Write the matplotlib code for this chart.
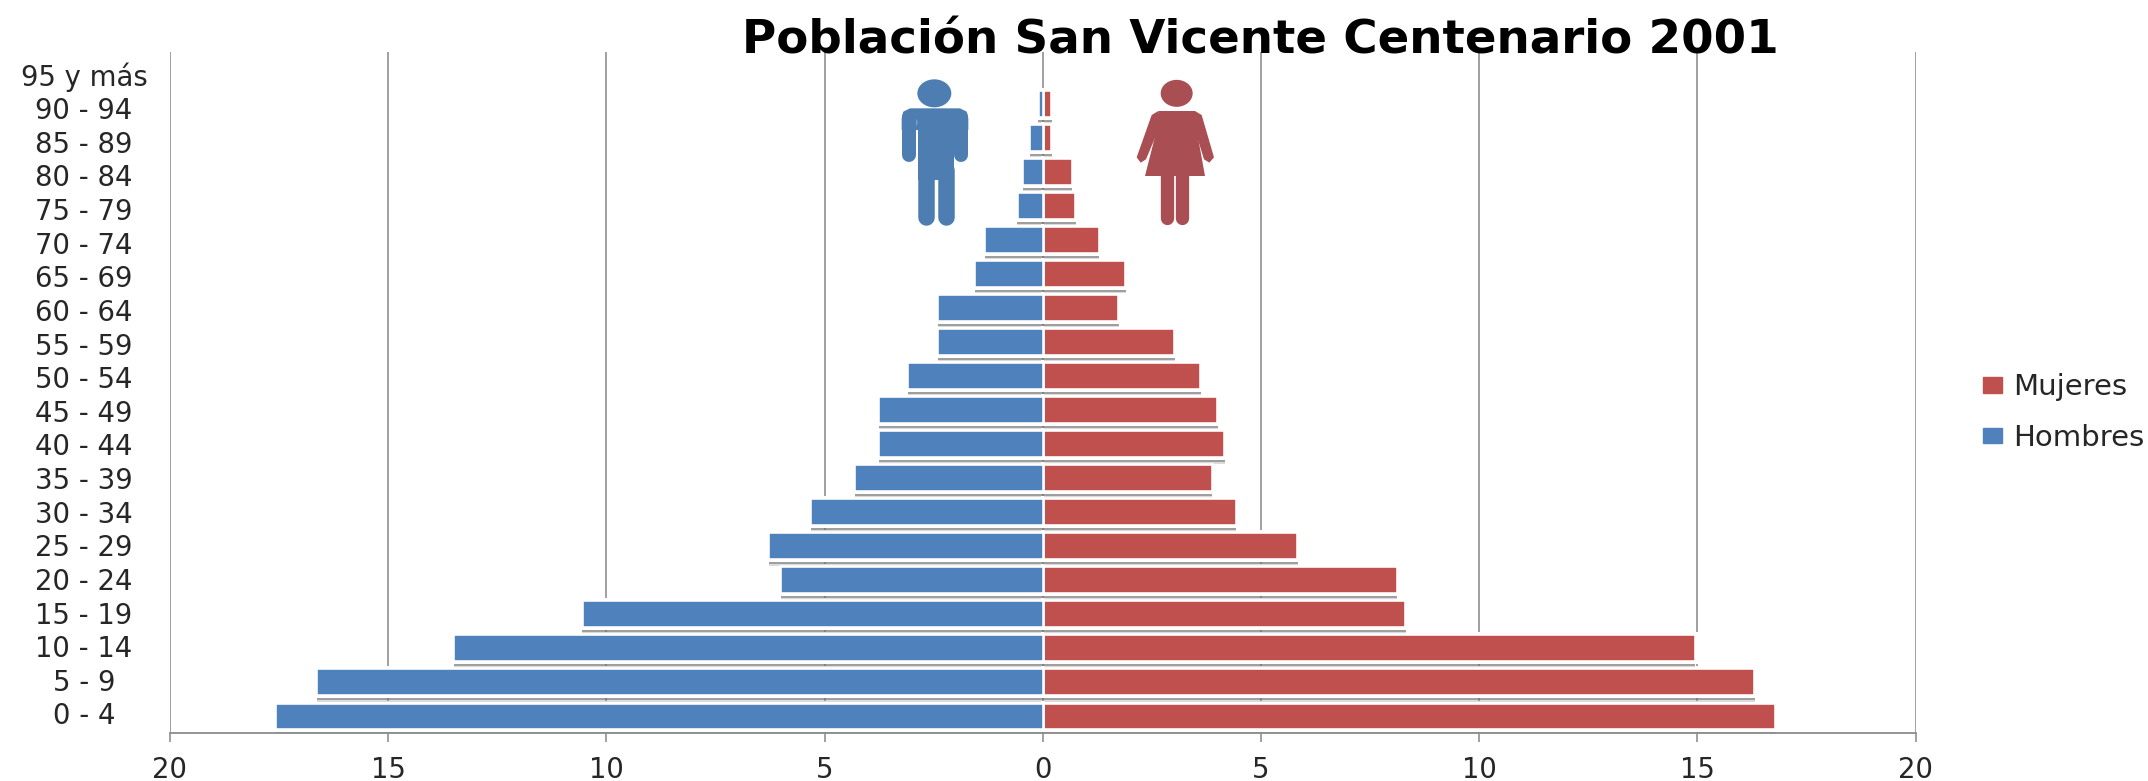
import matplotlib
matplotlib.use("Agg")
import matplotlib.pyplot as plt
import matplotlib.patheffects as pe
from matplotlib.patches import Ellipse, Polygon, Patch
from matplotlib.transforms import ScaledTranslation

age_groups = ["0 - 4", "5 - 9", "10 - 14", "15 - 19", "20 - 24", "25 - 29", "30 - 34",
              "35 - 39", "40 - 44", "45 - 49", "50 - 54", "55 - 59", "60 - 64", "65 - 69",
              "70 - 74", "75 - 79", "80 - 84", "85 - 89", "90 - 94", "95 y más"]
hombres = [17.6, 16.66, 13.52, 10.57, 6.02, 6.29, 5.34, 4.32, 3.77, 3.77, 3.1, 2.43, 2.43,
           1.57, 1.34, 0.6, 0.48, 0.32, 0.12, 0.0]
mujeres = [16.78, 16.3, 14.94, 8.3, 8.11, 5.83, 4.42, 3.87, 4.15, 3.99, 3.6, 3.01, 1.72,
           1.88, 1.28, 0.74, 0.66, 0.2, 0.2, 0.0]
x_ticks = [-20, -15, -10, -5, 0, 5, 10, 15, 20]
x_tick_labels = ["20", "15", "10", "5", "0", "5", "10", "15", "20"]
title = "Población San Vicente Centenario 2001"

BLUE = "#4F81BD"
RED = "#C0504D"
GRID = "#8C8C8C"
TEXT = "#262626"
W, H = 2148, 781
PT = 0.72  # points per pixel at dpi=100

fig = plt.figure(figsize=(W / 100, H / 100), dpi=100, facecolor="white")
ax = fig.add_axes([170 / W, 1 - 733 / H, (1915.5 - 170) / W, (733 - 52) / H])
ypos = list(range(len(age_groups)))

ax.set_xlim(-20, 20)
ax.set_ylim(-0.5, len(age_groups) - 0.5)
ax.set_xticks(x_ticks)
ax.set_xticklabels(x_tick_labels)
ax.set_yticks(ypos)
ax.set_yticklabels(age_groups)
for s in ("top", "right", "left"):
    ax.spines[s].set_visible(False)
ax.spines["bottom"].set_color(GRID)
ax.spines["bottom"].set_linewidth(1.8 * PT)
ax.set_axisbelow(True)
ax.grid(axis="x", color=GRID, linewidth=1.6 * PT, zorder=1)
ax.tick_params(axis="x", length=9 * PT, width=1.6 * PT, color=GRID, pad=14.5 * PT,
               labelsize=19.8, labelcolor=TEXT)
ax.tick_params(axis="y", length=0, pad=86 * PT, labelsize=19.8, labelcolor=TEXT)
n = len(age_groups)
for i, lab in enumerate(ax.get_yticklabels()):
    lab.set_ha("center")
    # the category labels run on a slightly tighter pitch than the bars
    dy = (2.5 - 8.0 * i / (n - 1)) / 100
    lab.set_transform(lab.get_transform() + ScaledTranslation(0, dy, fig.dpi_scale_trans))

halo_fx = [
    pe.SimplePatchShadow(offset=(0.8 * PT, -6.5 * PT), shadow_rgbFace="#8a8a8a", alpha=0.3),
    pe.SimplePatchShadow(offset=(0.8 * PT, -5 * PT), shadow_rgbFace="#6f6f6f", alpha=0.55),
    pe.Normal(),
]
for vals, sign in ((hombres, -1), (mujeres, 1)):
    halo = ax.barh(ypos, [sign * v for v in vals], height=0.79, color="white",
                   edgecolor="white", linewidth=5 * PT, zorder=2)
    for b, v in zip(halo, vals):
        if v > 0:
            b.set_path_effects(halo_fx)
        else:
            b.set_visible(False)

bars_m = ax.barh(ypos, mujeres, height=0.79, color=RED, edgecolor="white",
                 linewidth=2.6 * PT, zorder=3, label="Mujeres")
bars_h = ax.barh(ypos, [-v for v in hombres], height=0.79, color=BLUE, edgecolor="white",
                 linewidth=2.6 * PT, zorder=3, label="Hombres")
for container, vals in ((bars_m, mujeres), (bars_h, hombres)):
    for b, v in zip(container, vals):
        if v == 0:
            b.set_visible(False)

fig.legend(handles=[Patch(color=RED, label="Mujeres"), Patch(color=BLUE, label="Hombres")],
           loc="center left", bbox_to_anchor=(1983 / W, 1 - 412.5 / H), frameon=False,
           fontsize=21, labelcolor=TEXT, handlelength=0.65, handleheight=0.42,
           handletextpad=0.38, labelspacing=0.76, borderpad=0, borderaxespad=0)

fig.text(1260 / W, 1 - 53 / H, title, ha="center", va="baseline", fontsize=33.7,
         fontweight="bold", color="black", family="DejaVu Sans")

# Overlay in pixel space for the two pictograms
ov = fig.add_axes([0, 0, 1, 1], facecolor="none", zorder=10)
ov.set_xlim(0, W)
ov.set_ylim(H, 0)
ov.axis("off")


def z(x, y):
    """Map a position read in the magnified crop to a figure pixel."""
    return 850 + x / 3, 50 + y / 3


def limb(p, q, width, color):
    (x0, y0), (x1, y1) = z(*p), z(*q)
    ov.plot([x0, x1], [y0, y1], color=color, linewidth=width * PT, solid_capstyle="round")


MAN = "#4E7DB1"
WOMAN = "#A94F54"

ov.add_patch(Ellipse(z(253, 130), 34, 28, color=MAN, lw=0))
ov.add_patch(Polygon([z(*p) for p in [(180, 175), (330, 175), (350, 185), (355, 205), (355, 240),
                                      (155, 240), (155, 205), (160, 185)]], color=MAN, lw=0))
ov.add_patch(Polygon([z(*p) for p in [(203, 190), (312, 190), (312, 390), (203, 390)]],
                     color=MAN, lw=0))
limb((176, 200), (176, 315), 14, MAN)
limb((334, 200), (334, 315), 14, MAN)
limb((227, 360), (227, 500), 16.5, MAN)
limb((288, 360), (288, 500), 16.5, MAN)
ov.add_patch(Ellipse(z(185, 218), 12, 10, color="#7C9FC6", lw=0))

ov.add_patch(Ellipse(z(980, 130), 32, 27, color=WOMAN, lw=0))
ov.add_patch(Polygon([z(*p) for p in [(925, 183), (1035, 183), (1040, 240), (1065, 378),
                                      (885, 378), (920, 240)]], color=WOMAN, lw=0))
ov.add_patch(Polygon([z(*p) for p in [(925, 183), (905, 195), (860, 322), (872, 338),
                                      (888, 328), (925, 240)]], color=WOMAN, lw=0))
ov.add_patch(Polygon([z(*p) for p in [(1035, 183), (1055, 195), (1092, 322), (1078, 338),
                                      (1062, 328), (1035, 240)]], color=WOMAN, lw=0))
limb((950, 370), (950, 503), 13.3, WOMAN)
limb((995, 370), (995, 503), 13.3, WOMAN)

fig.savefig("out.png", dpi=100, facecolor="white")
